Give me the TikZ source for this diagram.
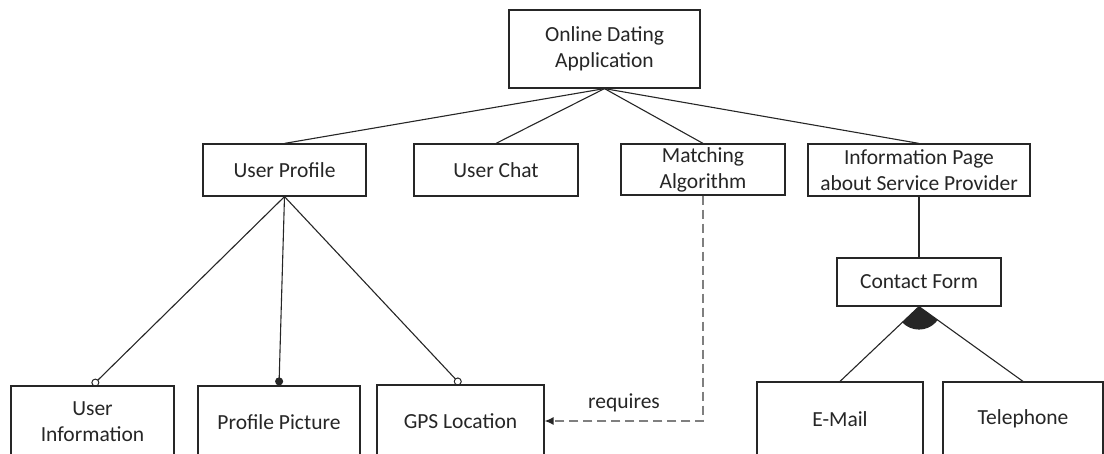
\documentclass[tikz,border=0pt]{standalone}
\usepackage{fontspec}
\setmainfont{Carlito}
\usetikzlibrary{arrows.meta,calc}
\definecolor{ink}{HTML}{262626}
\definecolor{dashgray}{HTML}{7F7F7F}
\tikzset{
  box/.style={draw=ink, line width=1.2pt, fill=white, align=center, text=ink,
    font=\fontsize{21.5pt}{26pt}\selectfont, inner sep=0pt},
  link/.style={draw=ink, line width=1.1pt},
  opt/.style={link, -{Circle[open,length=8pt,width=8pt,line width=1pt]}},
  mand/.style={link, -{Circle[length=8pt,width=8pt]}},
  req/.style={draw=dashgray, line width=1.3pt, dash pattern=on 9pt off 5pt,
    -{Latex[length=9pt,width=8pt,color=ink]}},
  lbl/.style={text=ink, font=\fontsize{21.5pt}{26pt}\selectfont, inner sep=0pt}
}
\begin{document}
\begin{tikzpicture}[x=1pt,y=-1pt]
  \useasboundingbox (0,0) rectangle (1104,454);
  \clip (0,0) rectangle (1104,454);

  % feature boxes
  \node[box, minimum width=191pt, minimum height=78pt] (app) at (604.5,49) {Online Dating\\Application};
  \node[box, minimum width=163pt, minimum height=52pt] (up) at (284.5,170) {User Profile};
  \node[box, minimum width=164pt, minimum height=52pt] (chat) at (496,170) {User Chat};
  \node[box, minimum width=164pt, minimum height=51pt] (match) at (703,169.5) {Matching\\Algorithm};
  \node[box, minimum width=222pt, minimum height=52pt] (info) at (919,170) {Information Page\\about Service Provider};
  \node[box, minimum width=164pt, minimum height=48pt] (contact) at (919,282) {Contact Form};

  \node[box, minimum width=163pt, minimum height=72pt] (uinfo) at (92.5,422) {User\\Information};
  \node[box, minimum width=162pt, minimum height=72pt] (pic) at (279,422) {Profile Picture};
  \node[box, minimum width=167pt, minimum height=72pt] (gps) at (460.5,421) {GPS Location};
  \node[box, minimum width=166pt, minimum height=74pt] (email) at (840,419) {E-Mail};
  \node[box, minimum width=160pt, minimum height=74pt] (tel) at (1023,419) {Telephone};

  % tree connectors
  \draw[link] (app.south) -- (up.north);
  \draw[link] (app.south) -- (chat.north);
  \draw[link] (app.south) -- (match.north);
  \draw[link] (app.south) -- (info.north);
  \draw[link] (info.south) -- (contact.north);

  \draw[opt]  (up.south) -- (uinfo.north);
  \draw[mand] (up.south) -- (pic.north);
  \draw[opt]  (up.south) -- (gps.north);

  % alternative group with filled arc
  \draw[link] (contact.south) -- (email.north);
  \draw[link] (contact.south) -- (tel.north);
  \begin{scope}
    \clip (contact.south) -- (email.north) -- (tel.north) -- cycle;
    \fill[ink] (contact.south) circle (23pt);
  \end{scope}

  % cross-tree constraint
  \draw[req] (match.south) |- (gps.east);
  \node[lbl] (reqlbl) at (624,403) {requires};
\end{tikzpicture}
\end{document}
